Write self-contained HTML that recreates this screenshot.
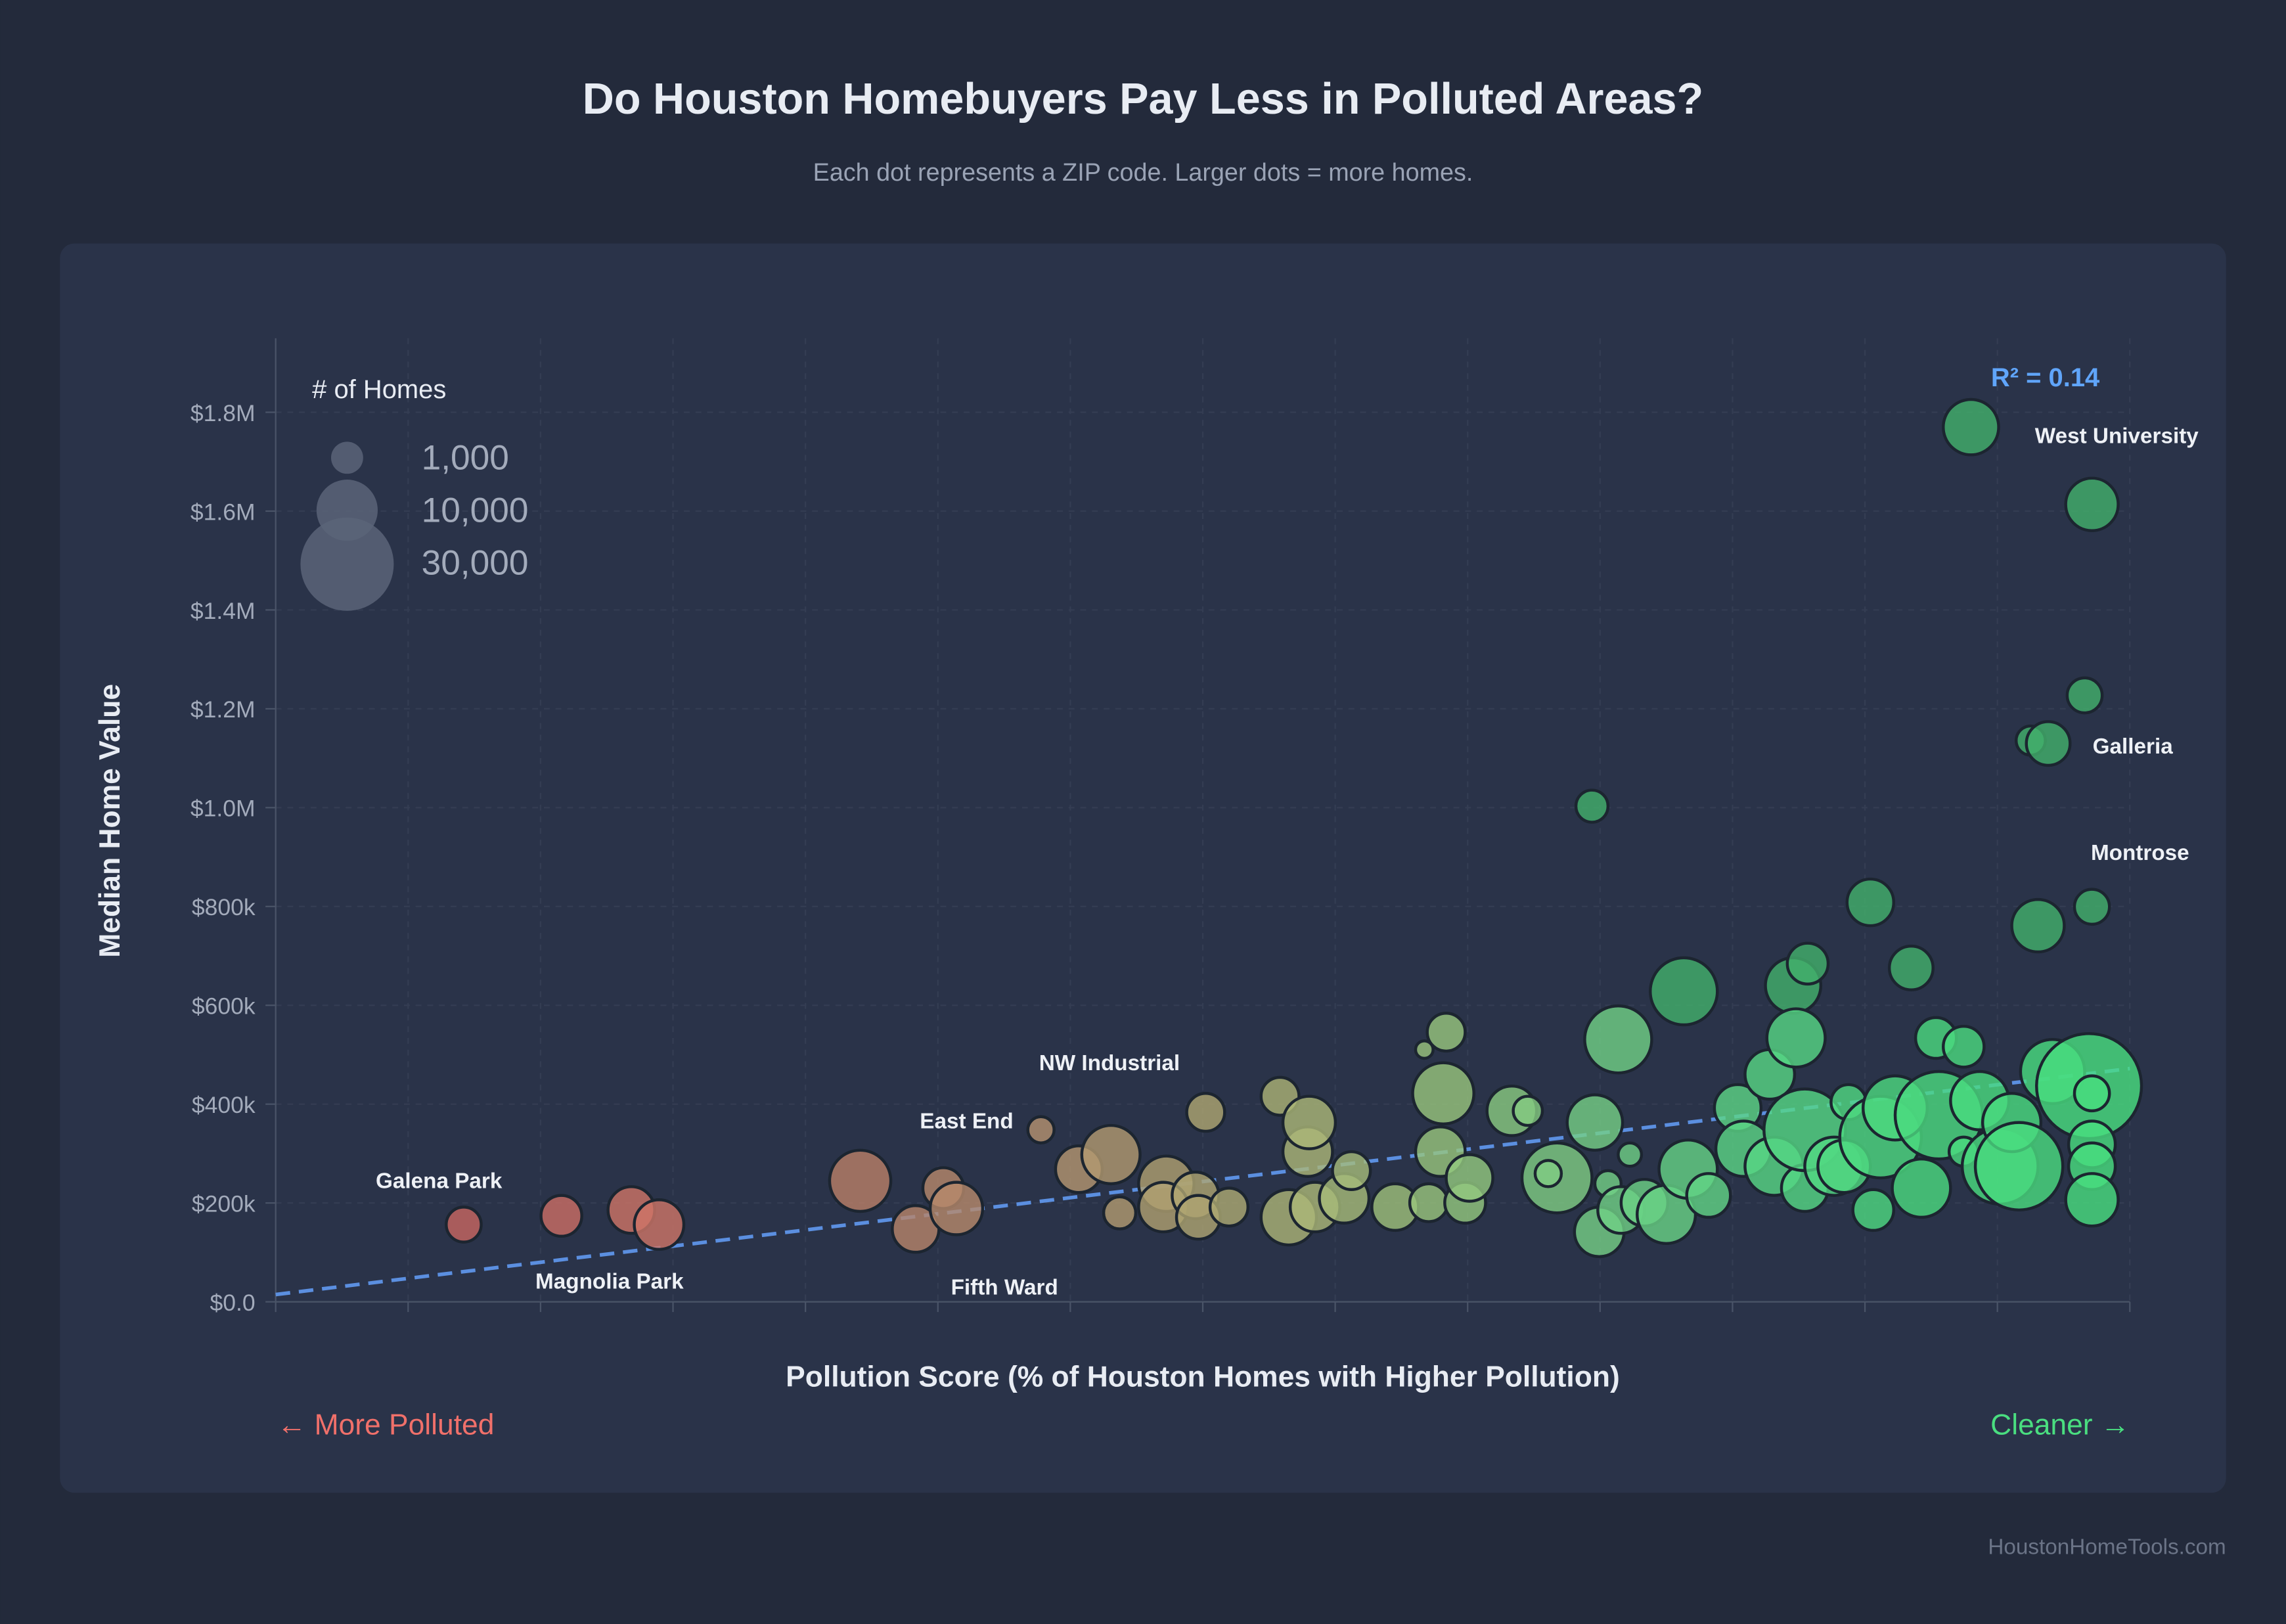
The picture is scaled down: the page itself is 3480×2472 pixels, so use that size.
<!DOCTYPE html>
<html><head><meta charset="utf-8"><style>
html,body{margin:0;padding:0;background:#232a3b;}
svg{display:block;}
text{font-family:"Liberation Sans",sans-serif;}
</style></head><body>
<svg id="s" width="3480" height="2472" viewBox="0 0 1568 1114" xmlns="http://www.w3.org/2000/svg">
<rect x="0" y="0" width="1568" height="1114" fill="#232a3b"/>
<text x="784" y="78" text-anchor="middle" font-size="30" font-weight="bold" fill="#e8ecf3">Do Houston Homebuyers Pay Less in Polluted Areas?</text>
<text x="784" y="124" text-anchor="middle" font-size="17" fill="#9aa3b5">Each dot represents a ZIP code. Larger dots = more homes.</text>
<rect x="41" y="167" width="1486" height="857" rx="10" fill="#2a3349"/>
<g id="grid" stroke="#343d53" stroke-width="1" stroke-dasharray="4,4"></g>
<line x1="189" y1="232" x2="189" y2="893" stroke="#4a5468" stroke-width="1"/>
<line x1="189" y1="893" x2="1461" y2="893" stroke="#4a5468" stroke-width="1"/>
<g id="ticks" stroke="#4a5468" stroke-width="1"></g>
<g id="ylab" font-size="16" fill="#a3abbb" text-anchor="end"></g>
<text transform="translate(82,563) rotate(-90)" text-anchor="middle" font-size="20" font-weight="bold" fill="#e8ecf3">Median Home Value</text>
<text x="825" y="951" text-anchor="middle" font-size="20" font-weight="bold" fill="#e8ecf3" style="font-weight:600">Pollution Score (% of Houston Homes with Higher Pollution)</text>
<text x="190" y="984" font-size="20" fill="#f0706a">← More Polluted</text>
<text x="1461" y="984" text-anchor="end" font-size="20" fill="#4ade80">Cleaner →</text>
<text x="1527" y="1066" text-anchor="end" font-size="15" fill="#6b7487">HoustonHomeTools.com</text>
<line x1="189" y1="888" x2="1461" y2="733" stroke="#5b8fe0" stroke-width="2.5" stroke-dasharray="10,6"/>
<g id="b"></g>
<text x="214" y="273" font-size="18" fill="#e8ecf3">#  of Homes</text>
<circle cx="238" cy="314" r="11" fill="#5a6478" fill-opacity="0.85"/>
<circle cx="238" cy="350" r="21" fill="#5a6478" fill-opacity="0.85"/>
<circle cx="238" cy="387" r="32" fill="#5a6478" fill-opacity="0.85"/>
<text x="289" y="322" font-size="24" fill="#a3abbb">1,000</text>
<text x="289" y="358" font-size="24" fill="#a3abbb">10,000</text>
<text x="289" y="394" font-size="24" fill="#a3abbb">30,000</text>
<text x="1403" y="265" text-anchor="middle" font-size="18" font-weight="bold" fill="#60a5fa">R² = 0.14</text>
<g font-size="15" font-weight="bold" fill="#eef1f6" text-anchor="middle">
<text x="301" y="815">Galena Park</text>
<text x="418" y="884">Magnolia Park</text>
<text x="663" y="774">East End</text>
<text x="689" y="888">Fifth Ward</text>
<text x="761" y="734">NW Industrial</text>
<text x="1452" y="304">West University</text>
<text x="1463" y="517">Galleria</text>
<text x="1468" y="590">Montrose</text>
</g>
</svg>
<script>
var NS="http://www.w3.org/2000/svg";
function el(t,a,p){var e=document.createElementNS(NS,t);for(var k in a)e.setAttribute(k,a[k]);document.getElementById(p).appendChild(e);return e;}
var xs=[];for(var i=0;i<=14;i++)xs.push(189+i*(1272/14));
xs.forEach(function(x,i){if(i>0)el('line',{x1:x,y1:232,x2:x,y2:893},'grid');el('line',{x1:x,y1:893,x2:x,y2:900},'ticks');});
var labs=['$0.0','$200k','$400k','$600k','$800k','$1.0M','$1.2M','$1.4M','$1.6M','$1.8M'];
labs.forEach(function(l,i){var y=893-i*67.8;if(i>0)el('line',{x1:189,y1:y,x2:1461,y2:y},'grid');el('line',{x1:182,y1:y,x2:189,y2:y},'ticks');var t=el('text',{x:175,y:y+6},'ylab');t.textContent=l;});
var B=[[318,840,12],[385,834,14],[433,830,16],[452,840,17],[590,810,21],[628,843,16],[647,815,14],[656,829,18],[714,775,9],[740,802,16],[762,792,20],[768,832,11],[800,812,19],[798,828,17],[820,820,16],[822,835,15],[827,763,13],[843,828,13],[878,752,13],[884,835,19],[897,790,17],[898,770,18],[902,828,17],[922,822,17],[927,803,13],[957,828,16],[977,720,6],[990,750,21],[992,708,13],[980,825,13],[988,790,17],[1005,825,14],[1008,808,16],[1037,762,17],[1048,762,10],[1068,808,24],[1062,805,9],[1092,553,11],[1094,770,19],[1097,845,17],[1103,812,9],[1110,713,23],[1112,830,16],[1118,792,8],[1128,825,16],[1143,833,20],[1155,680,23],[1158,802,20],[1172,820,15],[1192,760,16],[1196,788,19],[1214,737,17],[1217,800,20],[1230,676,19],[1232,712,20],[1240,661,14],[1238,815,16],[1238,775,28],[1258,800,20],[1268,756,12],[1265,800,18],[1283,619,16],[1285,830,14],[1290,780,28],[1300,760,22],[1311,664,15],[1318,815,20],[1328,712,14],[1330,765,30],[1347,718,14],[1347,790,10],[1358,755,20],[1372,800,26],[1380,770,20],[1385,800,30],[1393,508,10],[1398,635,18],[1405,510,15],[1408,735,22],[1430,477,12],[1435,346,18],[1435,622,12],[1433,745,36],[1435,750,12],[1435,785,16],[1435,800,16],[1435,823,18],[1352,293,19]];
var stops=[[300,[200,100,96]],[450,[208,118,104]],[600,[184,128,104]],[700,[184,144,112]],[800,[176,160,112]],[900,[172,184,120]],[1000,[150,200,126]],[1100,[116,208,134]],[1200,[90,214,134]],[1300,[76,218,128]],[1440,[72,222,128]]];
function col(x,y){var c=stops[stops.length-1][1];for(var i=0;i<stops.length-1;i++){if(x<=stops[0][0]){c=stops[0][1];break;}if(x>=stops[i][0]&&x<=stops[i+1][0]){var t=(x-stops[i][0])/(stops[i+1][0]-stops[i][0]);c=stops[i][1].map(function(v,j){return Math.round(v+t*(stops[i+1][1][j]-v));});break;}}
if(x>1050&&y<700){c=[66,176,108];}return 'rgb('+c.join(',')+')';}
B.forEach(function(b){el('circle',{cx:b[0],cy:b[1],r:b[2],fill:col(b[0],b[1]),'fill-opacity':0.8,stroke:'#1c2530','stroke-width':2},'b');});
</script>
</body></html>
